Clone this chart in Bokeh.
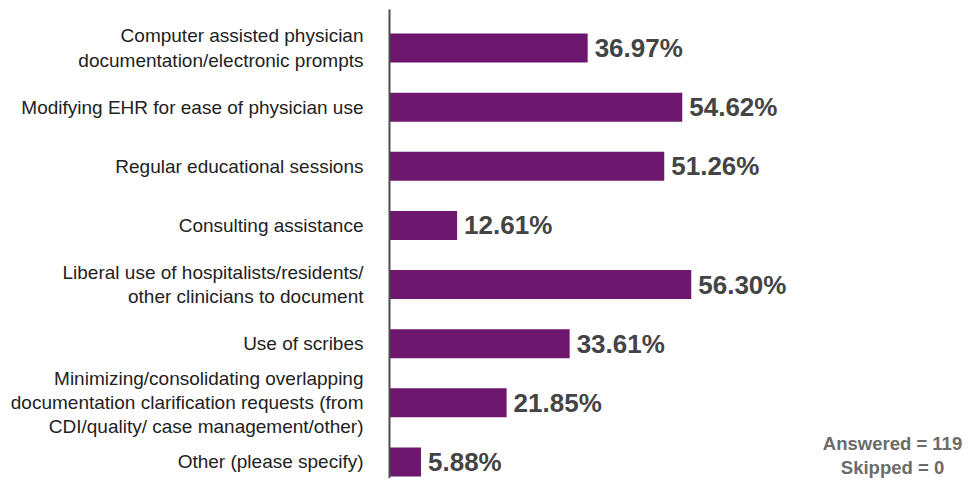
from bokeh.plotting import figure
from bokeh.models import Range1d, ColumnDataSource, Label
from bokeh.core.properties import value
from bokeh.embed import file_html
from bokeh.resources import INLINE

categories = [
    "Computer assisted physician\ndocumentation/electronic prompts",
    "Modifying EHR for ease of physician use",
    "Regular educational sessions",
    "Consulting assistance",
    "Liberal use of hospitalists/residents/\nother clinicians to document",
    "Use of scribes",
    "Minimizing/consolidating overlapping\ndocumentation clarification requests (from\nCDI/quality/ case management/other)",
    "Other (please specify)",
]
percents = [36.97, 54.62, 51.26, 12.61, 56.30, 33.61, 21.85, 5.88]
value_labels = ["%.2f%%" % v for v in percents]
summary_lines = ["Answered = 119", "Skipped = 0"]

W, H = 964, 478
PX = 5.36          # pixels per percent
AXIS_X = 389       # pixel position of the axis line within the figure
ROW = 59.14        # pixels per category row
TOP = 47.5         # pixel centre of first row

positions = list(range(len(categories)))

src = ColumnDataSource(dict(
    y=positions, v=percents, cat=categories, lab=value_labels,
))

p = figure(width=W, height=H, output_backend="svg", toolbar_location=None,
           x_range=Range1d(-AXIS_X / PX, (W - AXIS_X) / PX),
           y_range=Range1d((H - TOP) / ROW, -TOP / ROW),
           x_axis_location=None, y_axis_location=None,
           min_border=0, min_border_left=0, min_border_right=0,
           min_border_top=0, min_border_bottom=0)
p.outline_line_color = None
p.xgrid.visible = False
p.ygrid.visible = False
p.background_fill_color = "white"

p.hbar(y="y", left=0, right="v", height=0.49, source=src,
       fill_color="#6c166e", line_color=None)

# vertical axis line
p.segment(x0=0, y0=(9 - TOP) / ROW, x1=0, y1=(H - TOP) / ROW,
          line_color="#4d4d4d", line_width=2)

p.text(x=0, y="y", text="cat", source=src, x_offset=-26,
       text_align="right", text_baseline="middle",
       text_font=value("Liberation Sans"), text_font_size="19px",
       text_color="#222222", text_line_height=1.15)

p.text(x="v", y="y", text="lab", source=src, x_offset=7,
       text_align="left", text_baseline="middle",
       text_font=value("Liberation Sans"), text_font_size="26px",
       text_font_style="bold", text_color="#444444")

sx = (892 - AXIS_X) / PX
for i, t in enumerate(summary_lines):
    yy = (443 - TOP + i * 24) / ROW
    p.add_layout(Label(x=sx, y=yy, text=t, text_align="center", text_baseline="middle",
                       text_font="Liberation Sans", text_font_size="18.5px",
                       text_font_style="bold", text_color="#6b6b6b"))

open("out.html", "w").write(file_html(p, INLINE))
